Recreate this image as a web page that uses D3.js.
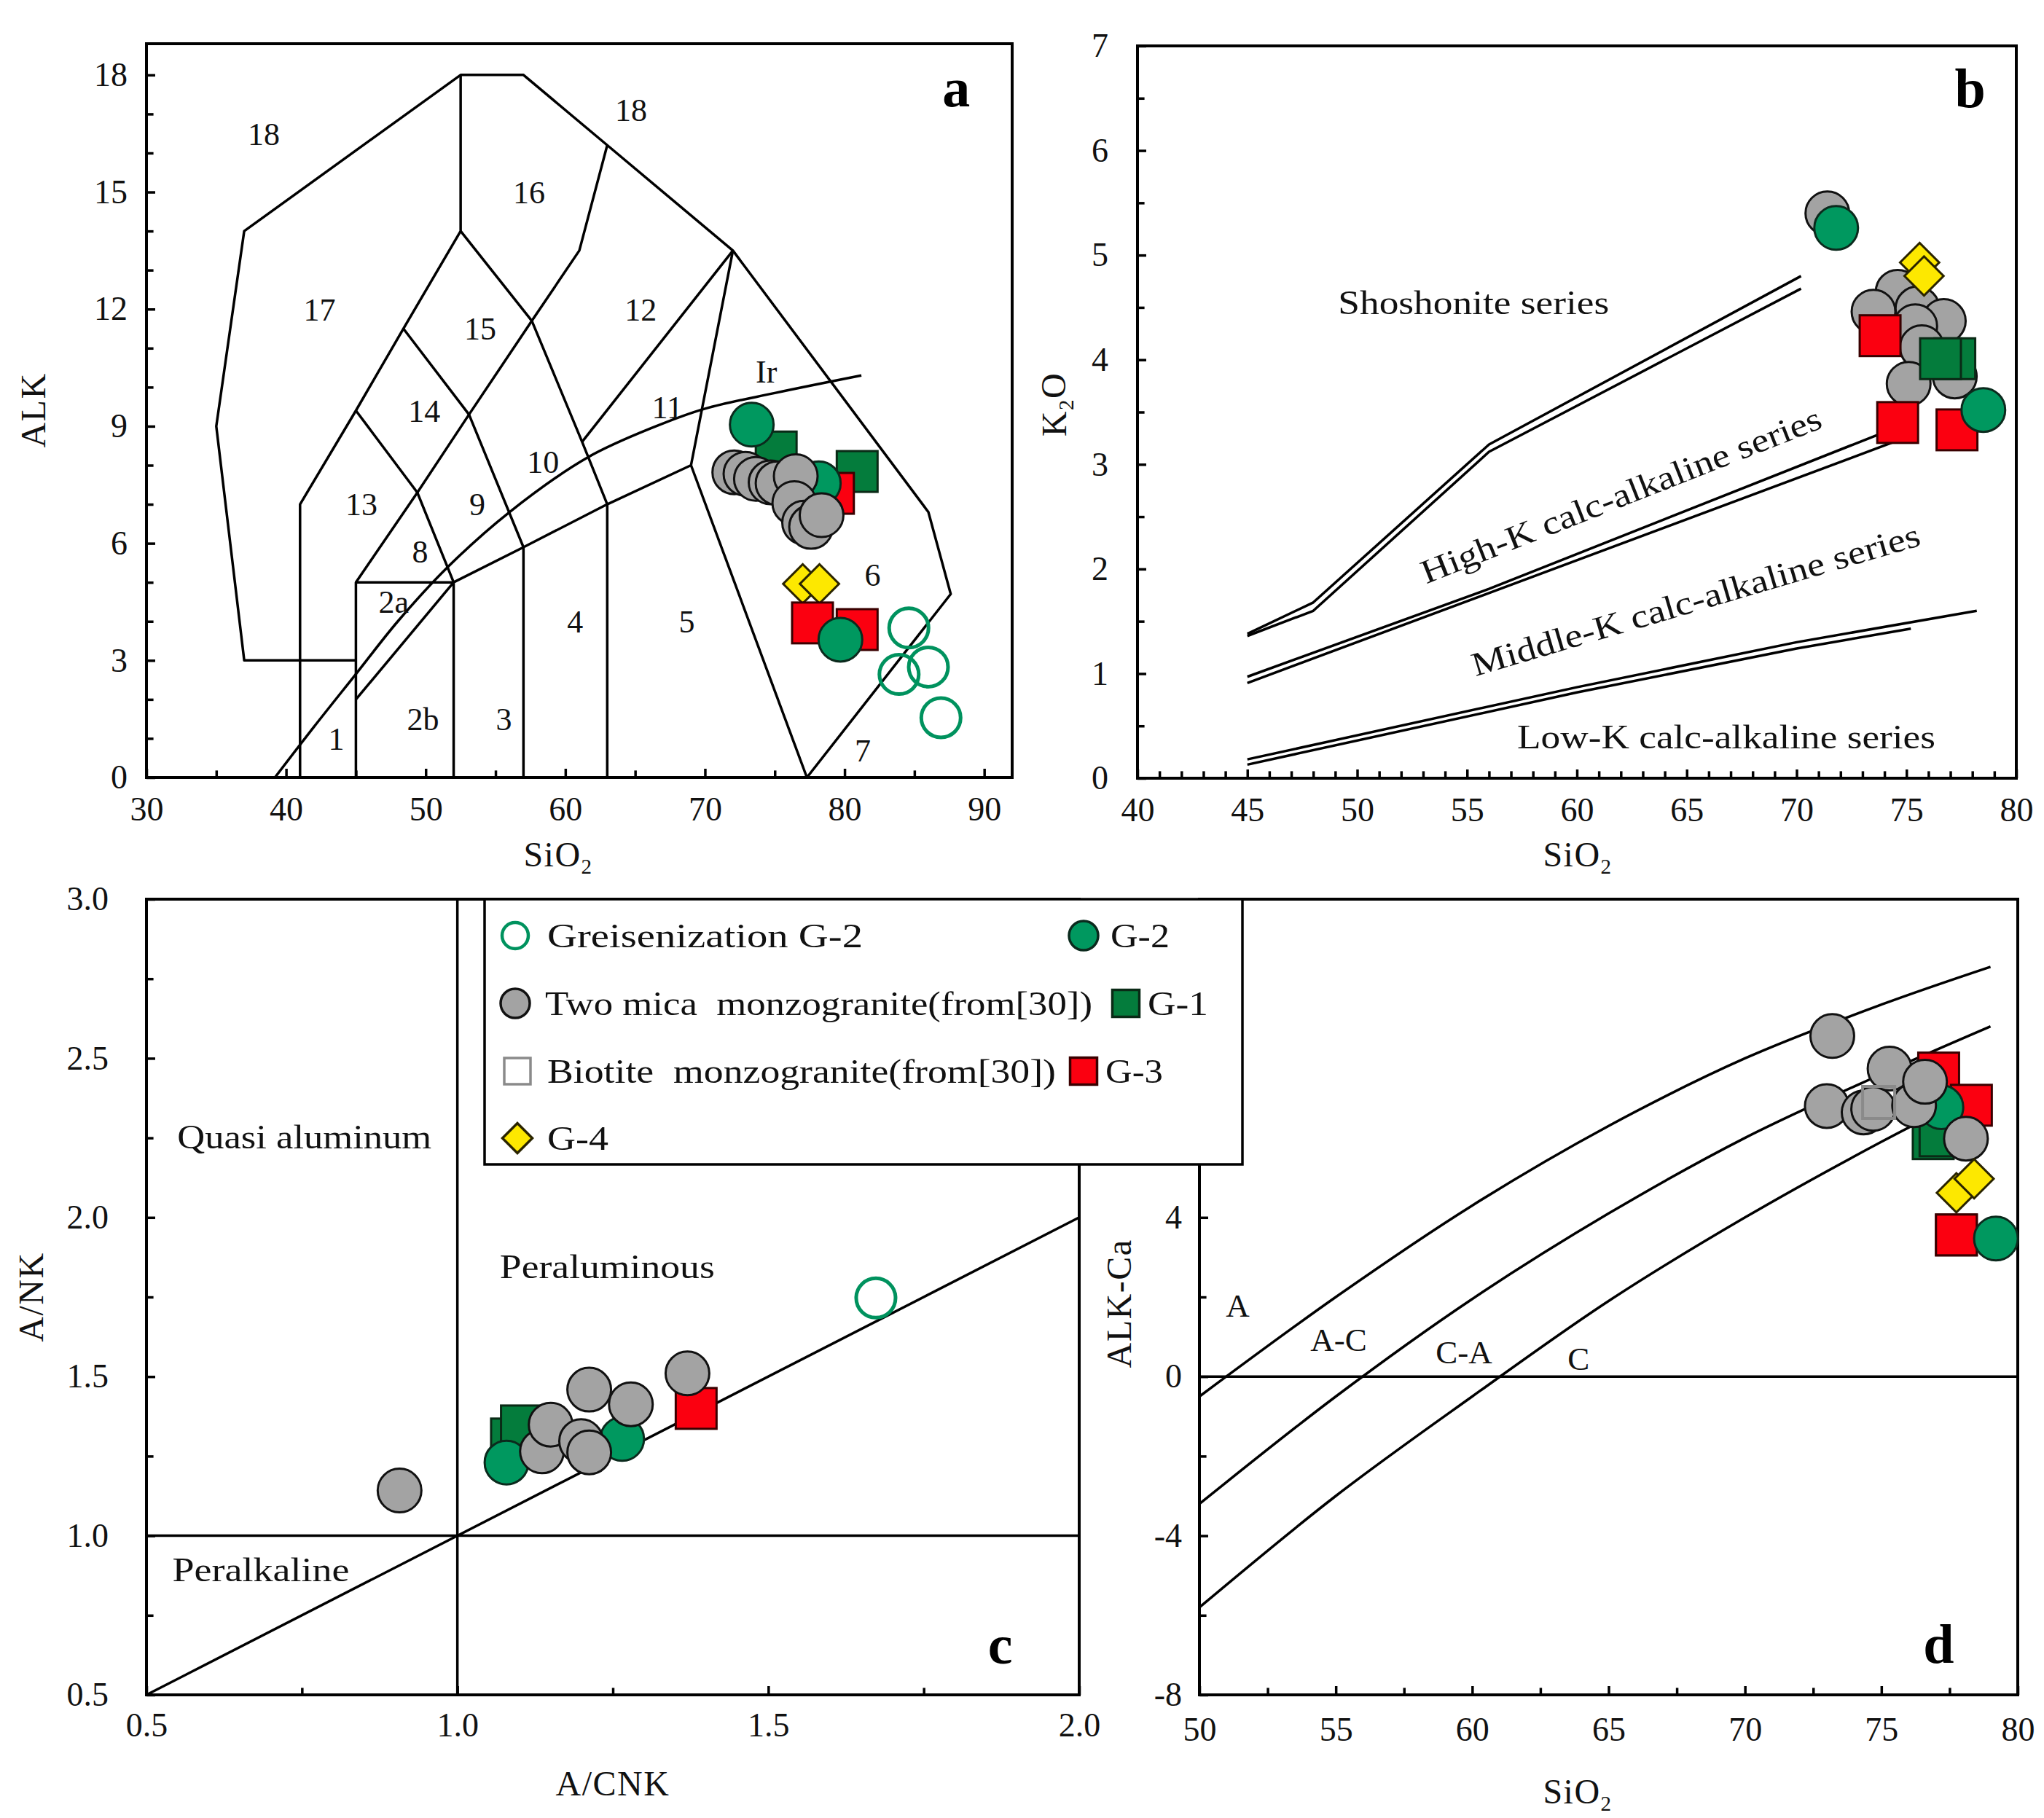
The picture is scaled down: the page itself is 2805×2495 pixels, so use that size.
<!DOCTYPE html>
<html>
<head>
<meta charset="utf-8">
<script src="https://cdn.jsdelivr.net/npm/d3@7"></script>
<style>
  body { margin: 0; background: #fff; }
  text { font-family: "Liberation Serif", "Times New Roman", serif; white-space: pre; }
</style>
</head>
<body>
<svg id="chart" width="2805" height="2495"></svg>
<script>
// ---------- panel a : TAS (plutonic) ----------
const aXTicks = [30, 40, 50, 60, 70, 80, 90];
const aXMinor = [35, 45, 55, 65, 75, 85];
const aYTicks = [0, 3, 6, 9, 12, 15, 18];
const aYMinor = [1, 2, 4, 5, 7, 8, 10, 11, 13, 14, 16, 17];
const aBoundaries = [
  [[45, 3], [37, 3], [35, 9], [37, 14], [52.5, 18], [57, 18], [63, 16.2], [72, 13.5], [86, 6.8], [87.6, 4.7], [77.3, 0]],
  [[41, 0], [41, 7], [45, 9.4], [48.4, 11.5], [52.5, 14], [52.5, 18]],
  [[45, 0], [45, 5], [52, 5]],
  [[52, 0], [52, 5], [57, 5.9], [63, 7], [69, 8], [72, 13.5]],
  [[57, 0], [57, 5.9]],
  [[63, 0], [63, 7]],
  [[69, 8], [77.3, 0]],
  [[45, 9.4], [49.4, 7.3], [52, 5]],
  [[48.4, 11.5], [53.1, 9.3], [57, 5.9]],
  [[52.5, 14], [57.6, 11.7], [61.2, 8.6], [63, 7]],
  [[45, 5], [49.4, 7.3], [53.1, 9.3], [57.6, 11.7], [61, 13.5], [63, 16.2]],
  [[61.2, 8.6], [72, 13.5]],
  [[45, 2], [52, 5]]
];
const aIrvine = [[39.2, 0], [42, 1.3], [45, 2.65], [48, 4.0], [51.6, 5.4], [56, 6.8], [61.6, 8.2], [66.5, 9.0], [70, 9.45], [75, 9.85], [81.2, 10.3]];
const aFieldLabels = [
  ['18', 38.4, 16.5], ['18', 64.7, 17.1], ['16', 57.4, 15.0], ['17', 42.4, 12.0], ['15', 53.9, 11.5],
  ['12', 65.4, 12.0], ['Ir', 74.4, 10.4], ['14', 49.9, 9.4], ['11', 67.3, 9.5], ['10', 58.4, 8.1],
  ['13', 45.4, 7.0], ['9', 53.7, 7.0], ['8', 49.6, 5.8], ['2a', 47.7, 4.5], ['4', 60.7, 4.0],
  ['5', 68.7, 4.0], ['6', 82.0, 5.2], ['2b', 49.8, 1.5], ['3', 55.6, 1.5], ['1', 43.6, 1.0], ['7', 81.3, 0.7]
];
const aGreisen = [[84.6, 3.83], [83.9, 2.64], [86.0, 2.83], [86.9, 1.53]];
const aG2 = [[78.15, 7.54], [73.35, 9.04], [79.7, 3.53]];
const aG1 = [[75.1, 8.34], [80.9, 7.84]];
const aG3 = [[79.2, 7.28], [77.7, 3.96], [80.9, 3.79]];
const aG4 = [[77.0, 4.96], [78.2, 4.96]];
const aTwoMica = [[72.1, 7.82], [72.9, 7.78], [73.65, 7.65], [74.7, 7.56], [75.2, 7.54], [76.5, 7.72],
  [76.4, 7.03], [77.1, 6.53], [77.6, 6.42], [78.35, 6.72]];

// ---------- panel b : K2O vs SiO2 ----------
const bXTicks = [40, 45, 50, 55, 60, 65, 70, 75, 80];
const bXMinor = d3.range(41, 80).filter(v => v % 5 !== 0);
const bYTicks = [0, 1, 2, 3, 4, 5, 6, 7];
const bYMinor = [0.5, 1.5, 2.5, 3.5, 4.5, 5.5, 6.5];
const bLines = [
  [[45, 1.38], [48, 1.68], [56, 3.19], [70.2, 4.80]],
  [[45, 1.36], [48, 1.60], [56, 3.12], [70.2, 4.68]],
  [[45, 0.97], [56, 1.81], [74.5, 3.35]],
  [[45, 0.91], [56, 1.77], [74.5, 3.22]],
  [[45, 0.18], [60, 0.87], [70, 1.30], [78.2, 1.60]],
  [[45, 0.13], [60, 0.82], [70, 1.24], [75.2, 1.43]]
];
const bSeriesLabels = [
  ['Shoshonite series', 55.3, 4.55, 0],
  ['High-K calc-alkaline series', 62.0, 2.71, -21.5],
  ['Middle-K calc-alkaline series', 65.4, 1.71, -16.4],
  ['Low-K calc-alkaline series', 66.8, 0.40, 0]
];
const bTwoMica = [[71.4, 5.40], [74.6, 4.65], [73.5, 4.46], [75.5, 4.49], [76.7, 4.37], [75.4, 4.32],
  [75.7, 4.12], [75.1, 3.77], [77.2, 3.84]];
const bG3 = [[73.8, 4.23], [74.6, 3.40], [77.3, 3.33]];
const bG1 = [[77.2, 4.01], [76.55, 4.01]];
const bG2 = [[71.8, 5.26], [78.5, 3.52]];
const bG4 = [[75.6, 4.93], [75.8, 4.80]];

// ---------- panel c : A/NK vs A/CNK ----------
const cXTicks = [0.5, 1.0, 1.5, 2.0];
const cXMinor = [0.75, 1.25, 1.75];
const cYTicks = [0.5, 1.0, 1.5, 2.0, 2.5, 3.0];
const cYMinor = [0.75, 1.25, 1.75, 2.25, 2.75];
const cLines = [
  [[1, 0.5], [1, 3.0]],
  [[0.5, 1], [2.0, 1]],
  [[0.5, 0.5], [2.0, 2.0]]
];
const cFieldLabels = [['Quasi aluminum', 0.754, 2.254], ['Peraluminous', 1.241, 1.847], ['Peralkaline', 0.684, 0.893]];
const cGreisen = [[1.673, 1.747]];
const cG1 = [[1.087, 1.304], [1.103, 1.345]];
const cG2 = [[1.079, 1.230], [1.265, 1.304]];
const cG3 = [[1.384, 1.400]];
const cTwoMica = [[0.907, 1.142], [1.136, 1.265], [1.150, 1.349], [1.212, 1.459], [1.199, 1.297],
  [1.212, 1.262], [1.279, 1.413], [1.370, 1.510]];

// ---------- panel d : MALI vs SiO2 ----------
const dXTicks = [50, 55, 60, 65, 70, 75, 80];
const dXMinor = [52.5, 57.5, 62.5, 67.5, 72.5, 77.5];
const dYTicks = [-8, -4, 0, 4, 8];
const dYMinor = [-6, -2, 2, 6, 10, 12];
const dCurves = [
  [[50, -0.5], [55, 2.0], [60, 4.3], [65, 6.3], [70, 8.0], [75, 9.35], [79, 10.3]],
  [[50, -3.2], [55, -0.5], [60, 1.95], [65, 4.1], [70, 6.0], [75, 7.6], [79, 8.8]],
  [[50, -5.8], [55, -3.0], [60, -0.5], [65, 1.9], [70, 4.0], [75, 5.9], [79, 7.3]]
];
const dZeroLine = [[50, 0], [80, 0]];
const dFieldLabels = [['A', 51.4, 1.8], ['A-C', 55.1, 0.93], ['C-A', 59.7, 0.63], ['C', 63.9, 0.45]];
const dG3 = [[77.1, 7.63], [78.3, 6.82], [77.75, 3.56]];
const dG1 = [[76.9, 5.98], [77.15, 6.05]];
const dG2 = [[77.2, 6.77], [79.2, 3.47]];
const dTwoMica = [[73.2, 8.56], [73.0, 6.80], [74.35, 6.64], [74.7, 6.73], [75.3, 7.74], [76.2, 6.82],
  [76.6, 7.41], [78.1, 5.98]];
const dBiotite = [[74.9, 6.89]];
const dG4 = [[77.75, 4.62], [78.4, 4.97]];

// ---------- legend ----------
const legendLabels = ['Greisenization G-2', 'G-2', 'Two mica  monzogranite(from[30])', 'G-1',
  'Biotite  monzogranite(from[30])', 'G-3', 'G-4'];

// ---------- styling ----------
const svg = d3.select('#chart');
const tickLen = 12;
const lineW = 3.5;
const fmtInt = d => String(d);
const fmtOne = d => d.toFixed(1);
const markStyles = {
  greisen: { shape: 'circle', size: 27, fill: 'none', stroke: '#00925e', sw: 5 },
  g2: { shape: 'circle', size: 30, fill: '#00985f', stroke: '#0b2a1d', sw: 3 },
  mica: { shape: 'circle', size: 30, fill: '#a3a3a3', stroke: '#111', sw: 3 },
  g1: { shape: 'square', size: 56, fill: '#047c3c', stroke: '#0a2a16', sw: 3 },
  g3: { shape: 'square', size: 56, fill: '#fb0010', stroke: '#3a0000', sw: 3 },
  g4: { shape: 'diamond', size: 38, fill: '#fde800', stroke: '#2a2400', sw: 3 },
  biotite: { shape: 'square', size: 44, fill: 'none', stroke: '#8a8a8a', sw: 4 }
};
// rendered widths of the long annotation strings (stretched like the source figure)
const bLabelWidths = [372, 587, 639, 574];
const cLabelWidths = [349, 295, 243];
const legendTextW = [433, 81, 751, 83, 698, 79, 84];

function makePanel(p) {
  const x = d3.scaleLinear().domain(p.xDomain).range([p.left, p.right]);
  const y = d3.scaleLinear().domain(p.yDomain).range([p.bottom, p.top]);
  const g = svg.append('g');

  const addAxis = (gen, tr) => {
    const a = g.append('g').attr('transform', tr).call(gen);
    a.select('.domain').remove();
    a.attr('font-family', '"Liberation Serif", "Times New Roman", serif').attr('font-size', p.fs);
    a.selectAll('line').attr('stroke', '#000').attr('stroke-width', 3.5);
    a.selectAll('text').attr('fill', '#111');
    return a;
  };
  addAxis(d3.axisBottom(x).tickValues(p.xTicks).tickSize(-tickLen).tickPadding(p.xPad).tickFormat(p.fmt),
    `translate(0,${p.bottom})`);
  addAxis(d3.axisBottom(x).tickValues(p.xMinor).tickSize(-tickLen * 0.8).tickFormat(''),
    `translate(0,${p.bottom})`);
  addAxis(d3.axisLeft(y).tickValues(p.yTicks).tickSize(-tickLen).tickPadding(p.yPad).tickFormat(p.fmt),
    `translate(${p.left},0)`);
  addAxis(d3.axisLeft(y).tickValues(p.yMinor).tickSize(-tickLen * 0.8).tickFormat(''),
    `translate(${p.left},0)`);

  g.append('rect')
    .attr('x', p.left).attr('y', p.top)
    .attr('width', p.right - p.left).attr('height', p.bottom - p.top)
    .attr('fill', 'none').attr('stroke', '#000').attr('stroke-width', 4);
  return { g, x, y };
}

function drawLines(panel, lines, curve) {
  const line = d3.line().x(d => panel.x(d[0])).y(d => panel.y(d[1])).curve(curve || d3.curveLinear);
  panel.g.append('g').selectAll('path')
    .data(lines).enter().append('path')
    .attr('d', line)
    .attr('fill', 'none').attr('stroke', '#000').attr('stroke-width', lineW)
    .attr('stroke-linejoin', 'round');
}

function markerShape(sel, st) {
  if (st.shape === 'circle') {
    sel.append('circle').attr('r', st.size);
  } else if (st.shape === 'square') {
    sel.append('rect').attr('x', -st.size / 2).attr('y', -st.size / 2)
      .attr('width', st.size).attr('height', st.size);
  } else {
    sel.append('rect').attr('x', -st.size / 2).attr('y', -st.size / 2)
      .attr('width', st.size).attr('height', st.size).attr('transform', 'rotate(45)');
  }
  sel.selectAll('circle,rect')
    .attr('fill', st.fill).attr('stroke', st.stroke).attr('stroke-width', st.sw);
}

function drawMarks(panel, data, key) {
  const st = markStyles[key];
  panel.g.append('g').selectAll('g')
    .data(data).enter().append('g')
    .attr('transform', d => `translate(${panel.x(d[0])},${panel.y(d[1])})`)
    .each(function () { markerShape(d3.select(this), st); });
}

function textAt(panel, list, fs, widths) {
  const t = panel.g.append('g').selectAll('text')
    .data(list).enter().append('text')
    .attr('transform', d => `translate(${panel.x(d[1])},${panel.y(d[2])}) rotate(${d[3] || 0})`)
    .attr('text-anchor', 'middle').attr('dy', '0.35em')
    .attr('font-size', fs).attr('fill', '#111')
    .text(d => d[0]);
  if (widths) {
    t.attr('textLength', (d, i) => widths[i]).attr('lengthAdjust', 'spacingAndGlyphs');
  }
}

function axisTitle(x, y, parts, rotate) {
  const t = svg.append('text')
    .attr('transform', `translate(${x},${y}) rotate(${rotate || 0})`)
    .attr('text-anchor', 'middle').attr('dy', '0.35em')
    .attr('font-size', 48).attr('fill', '#111').attr('letter-spacing', 1.5);
  parts.forEach(pt => {
    const s = t.append('tspan').text(pt[0]);
    if (pt[1]) s.attr('font-size', 29).attr('dy', '0.35em');
    else if (pt[2]) s.attr('dy', '-0.22em');
  });
}

function panelLetter(panel, letter, vx, vy) {
  panel.g.append('text')
    .attr('x', panel.x(vx)).attr('y', panel.y(vy)).attr('dy', '0.35em')
    .attr('text-anchor', 'middle')
    .attr('font-size', 76).attr('font-weight', 'bold').attr('fill', '#000')
    .text(letter);
}

// ---------- panel a ----------
const pa = makePanel({
  left: 201, right: 1389, top: 60, bottom: 1067,
  xDomain: [30, 92], yDomain: [0, 18.8],
  xTicks: aXTicks, xMinor: aXMinor, yTicks: aYTicks, yMinor: aYMinor,
  xPad: 26, yPad: 26, fs: 46, fmt: fmtInt
});
drawLines(pa, aBoundaries);
drawLines(pa, [aIrvine], d3.curveCatmullRom);
textAt(pa, aFieldLabels, 44);
panelLetter(pa, 'a', 88.0, 17.7);
drawMarks(pa, aGreisen, 'greisen');
drawMarks(pa, aG1, 'g1');
drawMarks(pa, [aG3[0]], 'g3');
drawMarks(pa, [aG2[0]], 'g2');
drawMarks(pa, aTwoMica, 'mica');
drawMarks(pa, [aG2[1]], 'g2');
drawMarks(pa, aG4, 'g4');
drawMarks(pa, [aG3[1], aG3[2]], 'g3');
drawMarks(pa, [aG2[2]], 'g2');

// ---------- panel b ----------
const pb = makePanel({
  left: 1561, right: 2767, top: 63, bottom: 1068,
  xDomain: [40, 80], yDomain: [0, 7],
  xTicks: bXTicks, xMinor: bXMinor, yTicks: bYTicks, yMinor: bYMinor,
  xPad: 26, yPad: 40, fs: 46, fmt: fmtInt
});
drawLines(pb, bLines);
textAt(pb, bSeriesLabels, 46, bLabelWidths);
panelLetter(pb, 'b', 77.9, 6.6);
drawMarks(pb, bTwoMica, 'mica');
drawMarks(pb, bG3, 'g3');
drawMarks(pb, bG1, 'g1');
drawMarks(pb, bG2, 'g2');
drawMarks(pb, bG4, 'g4');

// ---------- panel c ----------
const pc = makePanel({
  left: 201, right: 1481, top: 1234, bottom: 2326,
  xDomain: [0.5, 2.0], yDomain: [0.5, 3.0],
  xTicks: cXTicks, xMinor: cXMinor, yTicks: cYTicks, yMinor: cYMinor,
  xPad: 24, yPad: 52, fs: 46, fmt: fmtOne
});
drawLines(pc, cLines);
textAt(pc, cFieldLabels, 46, cLabelWidths);
panelLetter(pc, 'c', 1.873, 0.66);
drawMarks(pc, cGreisen, 'greisen');
drawMarks(pc, cG1, 'g1');
drawMarks(pc, cG2, 'g2');
drawMarks(pc, cG3, 'g3');
drawMarks(pc, cTwoMica, 'mica');

// ---------- panel d ----------
const pd = makePanel({
  left: 1646, right: 2769, top: 1234, bottom: 2326,
  xDomain: [50, 80], yDomain: [-8, 12],
  xTicks: dXTicks, xMinor: dXMinor, yTicks: dYTicks, yMinor: dYMinor,
  xPad: 30, yPad: 24, fs: 46, fmt: fmtInt
});
drawLines(pd, dCurves, d3.curveCatmullRom);
drawLines(pd, [dZeroLine]);
textAt(pd, dFieldLabels, 45);
panelLetter(pd, 'd', 77.1, -6.7);
drawMarks(pd, dG3, 'g3');
drawMarks(pd, dG1, 'g1');
drawMarks(pd, [dG2[0]], 'g2');
drawMarks(pd, dTwoMica, 'mica');
drawMarks(pd, dBiotite, 'biotite');
drawMarks(pd, dG4, 'g4');
drawMarks(pd, [dG3[2]], 'g3');
drawMarks(pd, [dG2[1]], 'g2');

// ---------- axis titles ----------
axisTitle(766, 1172, [['SiO'], ['2', true]]);
axisTitle(45, 563, [['ALK']], -90);
axisTitle(2165, 1172, [['SiO'], ['2', true]]);
axisTitle(1446, 555, [['K'], ['2', true], ['O', false, true]], -90);
axisTitle(841, 2447, [['A/CNK']]);
axisTitle(42, 1780, [['A/NK']], -90);
axisTitle(1535, 1789, [['ALK-Ca']], -90);
axisTitle(2165, 2458, [['SiO'], ['2', true]]);

// ---------- legend ----------
const leg = svg.append('g');
leg.append('rect')
  .attr('x', 665).attr('y', 1234).attr('width', 1040).attr('height', 364)
  .attr('fill', '#fff').attr('stroke', '#000').attr('stroke-width', 3.5);
const legendKeys = ['greisen', 'g2', 'mica', 'g1', 'biotite', 'g3', 'g4'];
const legendSymPos = [[707, 1284], [1487, 1284], [707, 1377], [1545, 1377], [710, 1470], [1487, 1470], [710, 1562]];
const legendTextX = [751, 1524, 748, 1575, 751, 1517, 751];
const legendSize = { greisen: 18, g2: 20, mica: 20, g1: 37, biotite: 36, g3: 37, g4: 29 };
legendKeys.forEach((k, i) => {
  const st = Object.assign({}, markStyles[k], { size: legendSize[k], sw: k === 'greisen' ? 4.5 : 3.5 });
  const s = leg.append('g').attr('transform', `translate(${legendSymPos[i][0]},${legendSymPos[i][1]})`);
  markerShape(s, st);
  leg.append('text')
    .attr('x', legendTextX[i]).attr('y', legendSymPos[i][1]).attr('dy', '0.35em')
    .attr('font-size', 46).attr('fill', '#111')
    .attr('textLength', legendTextW[i]).attr('lengthAdjust', 'spacingAndGlyphs')
    .text(legendLabels[i]);
});
</script>
</body>
</html>
